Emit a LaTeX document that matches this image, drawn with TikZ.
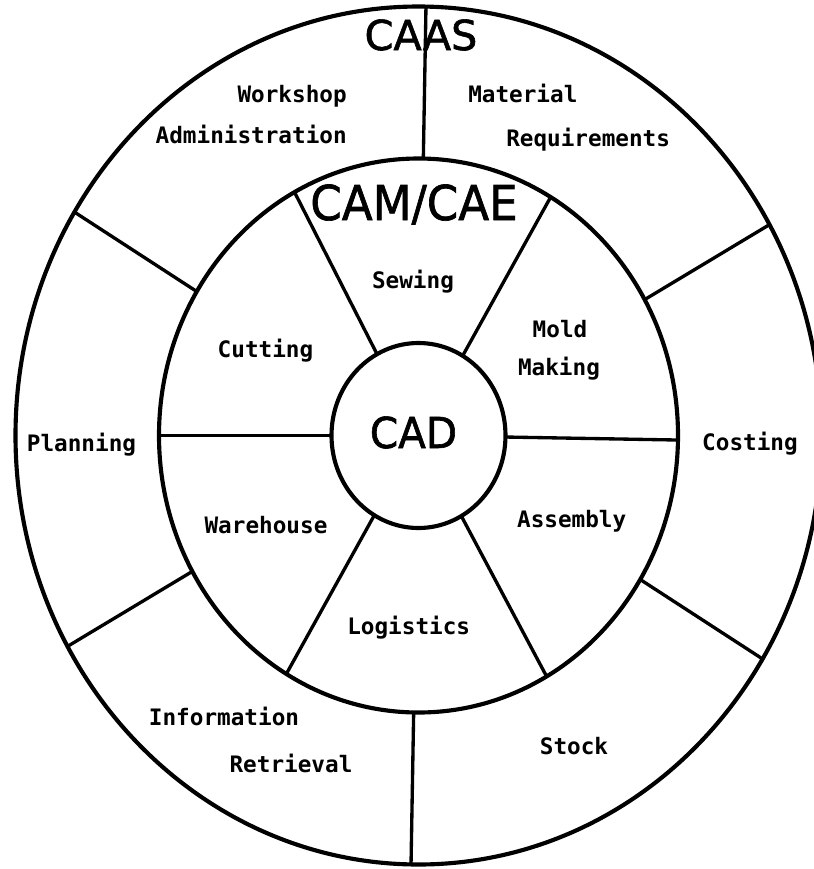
\documentclass[tikz,border=0pt]{standalone}
\usepackage{fontspec}
\usetikzlibrary{shapes.geometric}
\newfontfamily\monofont{DejaVu Sans Mono}
\newfontfamily\titlefont{DejaVu Sans ExtraLight}[FakeBold=1.4]
\begin{document}
\begin{tikzpicture}[x=0.75pt,y=-0.75pt,
  ring/.style={ellipse, draw, line width=3.1pt, inner sep=0pt, outer sep=0pt},
  spoke/.style={line width=2.5pt},
  lbl/.style={font=\monofont\bfseries\fontsize{17}{20}\selectfont, inner sep=0pt, anchor=base},
  ttl/.style={font=\titlefont\bfseries\fontsize{#1}{#1}\selectfont, inner sep=0pt, anchor=base}]
\useasboundingbox (0,0) rectangle (814,869);
\clip (0,0) rectangle (814,869);
% rings
\node[ring, minimum width=604.5pt, minimum height=643.5pt] (outer) at (418.5,435.5) {};
\node[ring, minimum width=389.25pt, minimum height=415.5pt] (mid) at (418.5,435.5) {};
\node[ring, minimum width=130.5pt, minimum height=138.75pt] (cad) at (418.5,435.5) {};
% outer ring spokes
\draw[spoke] (mid.89.4) -- (outer.89.6);
\draw[spoke] (mid.31.2) -- (outer.31.2);
\draw[spoke] (mid.147.9) -- (outer.147.9);
\draw[spoke] (mid.211.2) -- (outer.211.2);
\draw[spoke] (mid.269.6) -- (outer.269.7);
\draw[spoke] (mid.327.8) -- (outer.327.8);
% inner ring spokes
\draw[spoke] (cad.359.5) -- (mid.359.6);
\draw[spoke] (cad.61.2) -- (mid.61.2);
\draw[spoke] (cad.117.8) -- (mid.117.8);
\draw[spoke] (cad.180) -- (mid.180);
\draw[spoke] (cad.241.8) -- (mid.241.8);
\draw[spoke] (cad.298) -- (mid.298);
% titles
\node[ttl=31] (caas) at (421,50) {CAAS};
\node[ttl=36] (camcae) at (414,220) {\scalebox{0.94}[1]{CAM/CAE}};
\node[ttl=32] (cadtxt) at (413.5,448) {\scalebox{0.95}[1]{CAD}};
% outer ring labels
\node[lbl, anchor=base east] (workshop) at (347,102) {Workshop};
\node[lbl, anchor=base east] (admin) at (347,143) {Administration};
\node[lbl, anchor=base west] (material) at (468,102) {Material};
\node[lbl, anchor=base west] (requirements) at (506,146) {Requirements};
\node[lbl] (planning) at (81.5,451) {Planning};
\node[lbl] (costing) at (750,450) {Costing};
\node[lbl] (information) at (224,725) {Information};
\node[lbl] (retrieval) at (291,772) {Retrieval};
\node[lbl] (stock) at (574,754) {Stock};
% middle ring labels
\node[lbl] (sewing) at (413,288) {Sewing};
\node[lbl] (cutting) at (265.5,357) {Cutting};
\node[lbl] (mold) at (560,337) {Mold};
\node[lbl] (making) at (559,375) {Making};
\node[lbl] (warehouse) at (266,533) {Warehouse};
\node[lbl] (assembly) at (571.7,527.5) {Assembly};
\node[lbl] (logistics) at (408.7,634) {Logistics};
\end{tikzpicture}
\end{document}
